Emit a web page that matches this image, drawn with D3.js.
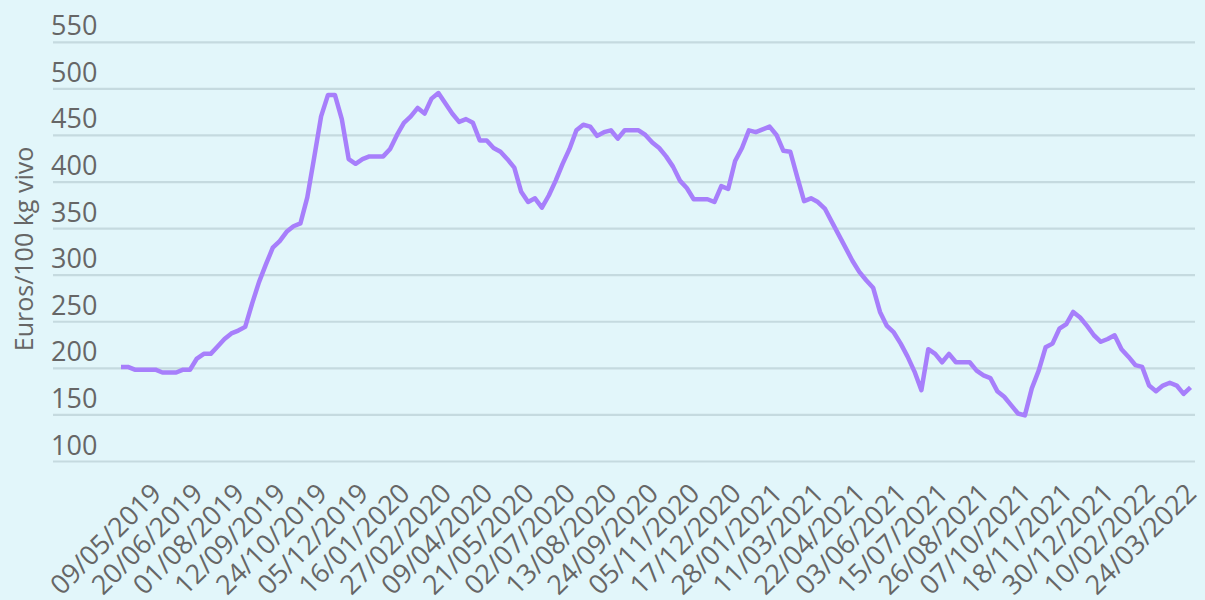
<!DOCTYPE html>
<html>
<head>
<meta charset="utf-8">
<script src="https://cdn.jsdelivr.net/npm/d3@7"></script>
<style>
  html, body { margin: 0; padding: 0; background: #e2f6fa; }
  svg { display: block; }
  text { font-family: "Open Sans", "Noto Sans", sans-serif; fill: #666666; }
</style>
</head>
<body>
<svg id="chart" width="1205" height="600"></svg>
<script>
// Weekly series, first week 04/04/2019, last week 24/03/2022
const startDate = "2019-04-04";
const values = [
  201,201,198,198,198,198,195,195,195,198,
  198,210,215,215,223,231,237,240,244,269,
  292,311,329,336,346,352,355,383,426,470,
  493,493,467,424,419,424,427,427,427,435,
  450,463,470,479,473,489,495,484,473,464,
  467,463,444,444,436,432,424,415,389,378,
  382,372,385,401,419,435,455,461,459,449,
  453,455,446,455,455,455,450,442,436,427,
  416,401,393,381,381,381,378,395,392,422,
  436,455,453,456,459,450,433,432,405,379,
  382,378,371,357,343,329,315,303,294,286,
  260,245,238,226,212,196,176,220,215,206,
  215,206,206,206,197,192,189,175,169,160,
  151,149,178,197,222,226,242,247,260,254,
  245,235,228,231,235,220,212,203,201,181,
  175,181,184,181,172,179
];
const tickLabels = [
  "09/05/2019","20/06/2019","01/08/2019","12/09/2019","24/10/2019","05/12/2019",
  "16/01/2020","27/02/2020","09/04/2020","21/05/2020","02/07/2020","13/08/2020",
  "24/09/2020","05/11/2020","17/12/2020","28/01/2021","11/03/2021","22/04/2021",
  "03/06/2021","15/07/2021","26/08/2021","07/10/2021","18/11/2021","30/12/2021",
  "10/02/2022","24/03/2022"
];
const yTicks = [100,150,200,250,300,350,400,450,500,550];
const yTitle = "Euros/100 kg vivo";

const parse = d3.timeParse("%Y-%m-%d");
const parseLabel = d3.timeParse("%d/%m/%Y");
const t0 = parse(startDate);
const dates = values.map((v, i) => d3.timeDay.offset(t0, 7 * i));
const data = values.map((v, i) => ({ date: dates[i], value: v }));

const svg = d3.select("#chart");
svg.append("rect").attr("width", 1205).attr("height", 600).attr("fill", "#e2f6fa");

const x = d3.scaleTime()
  .domain([dates[0], dates[dates.length - 1]])
  .range([121, 1190.5]);
const y = d3.scaleLinear().domain([100, 550]).range([461, 41.8]);

// gridlines + y labels
const yAxis = d3.axisLeft(y).tickValues(yTicks).tickSize(0).tickFormat(d3.format("d"));
const gy = svg.append("g").call(yAxis);
gy.select(".domain").remove();
gy.selectAll(".tick").each(function(d) {
  const g = d3.select(this);
  g.insert("line", "text")
    .attr("x1", 53).attr("x2", 1195)
    .attr("y1", 0).attr("y2", 0)
    .attr("stroke", "#c5dadf").attr("stroke-width", 2.2);
  g.select("text")
    .attr("x", 51).attr("y", -7).attr("dy", 0)
    .attr("text-anchor", "start")
    .style("font-size", "27px")
    .style("fill", "#666666");
});

// x labels
const xAxis = d3.axisBottom(x)
  .tickValues(tickLabels.map(parseLabel))
  .tickSize(0)
  .tickFormat(d3.timeFormat("%d/%m/%Y"));
const gx = svg.append("g").attr("transform", "translate(0,461)").call(xAxis);
gx.select(".domain").remove();
gx.selectAll(".tick text")
  .attr("x", 0).attr("y", 0).attr("dy", 0)
  .attr("text-anchor", "end")
  .attr("transform", "translate(7,34) rotate(-45)")
  .style("font-size", "27px")
  .style("fill", "#666666");

// y title
svg.append("text")
  .attr("transform", "translate(33,249) rotate(-90)")
  .attr("text-anchor", "middle")
  .style("font-size", "25px")
  .style("fill", "#666666")
  .text(yTitle);

// line
const line = d3.line().x(d => x(d.date)).y(d => y(d.value));
svg.append("path")
  .datum(data)
  .attr("fill", "none")
  .attr("stroke", "#a77ffb")
  .attr("stroke-width", 4.5)
  .attr("stroke-linejoin", "round")
  .attr("d", line);
</script>
</body>
</html>
